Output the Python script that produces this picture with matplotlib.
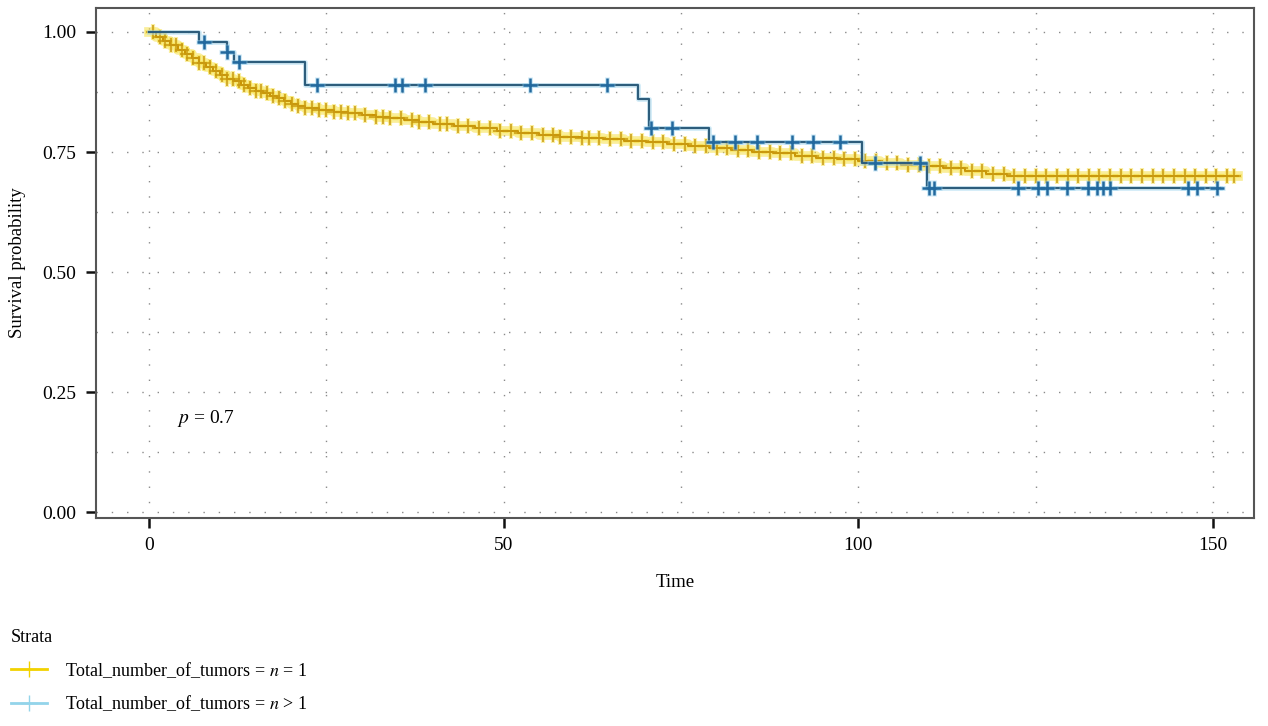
import numpy as np
import matplotlib
matplotlib.use("Agg")
import matplotlib.pyplot as plt
from matplotlib.lines import Line2D

plt.rcParams['font.family'] = ['Liberation Serif', 'DejaVu Serif']
plt.rcParams['mathtext.fontset'] = 'stix'

# stratum n = 1 : step times / survival
times_1 = [0, 1, 2, 3, 4, 5, 6, 7, 8, 9, 10, 11, 12, 13, 14, 15, 16, 17, 18, 19,
           20, 21, 22, 24, 26, 28, 30, 32, 34, 36, 38, 40, 43, 46, 49, 52, 55, 58,
           61, 64, 67, 70, 73, 76, 79, 82, 85, 88, 91, 94, 97, 100, 103, 106, 109,
           112, 115, 118, 121]
surv_1 = [1.0, 0.99, 0.981, 0.972, 0.963, 0.955, 0.945, 0.935, 0.927, 0.918,
          0.910, 0.903, 0.897, 0.890, 0.884, 0.878, 0.872, 0.867, 0.862, 0.856,
          0.850, 0.845, 0.841, 0.837, 0.834, 0.831, 0.828, 0.824, 0.820, 0.816,
          0.813, 0.809, 0.804, 0.800, 0.794, 0.789, 0.785, 0.781, 0.779, 0.777,
          0.774, 0.770, 0.766, 0.763, 0.759, 0.755, 0.751, 0.747, 0.742, 0.738,
          0.735, 0.731, 0.727, 0.723, 0.720, 0.716, 0.711, 0.705, 0.700]
end_1 = 153.5
censor_1 = [0.5, 1.5, 2.3, 3.1, 3.8, 4.6, 5.4, 6.2, 7.0, 7.8, 8.6, 9.4, 10.2, 11.0,
            11.8, 12.6, 13.4, 14.2, 15.0, 15.8, 16.6, 17.4, 18.3, 19.2, 20.1, 21.0,
            22.0, 23.0, 24.0, 25.0, 26.0, 27.0, 28.0, 29.0, 30.5, 32.0, 33.0, 34.0,
            35.5, 37.0, 38.0, 39.5, 41.0, 42.0, 43.5, 45.0, 46.5, 48.0, 49.5, 51.0,
            52.5, 54.0, 55.5, 57.0, 58.0, 59.5, 61.0, 62.0, 63.5, 65.0, 66.5, 68.0,
            69.5, 71.0, 72.5, 74.0, 75.5, 77.0, 78.5, 80.0, 81.5, 83.0, 84.5, 86.0,
            87.5, 89.0, 90.5, 92.0, 93.5, 95.0, 96.5, 98.0, 99.5, 101.0, 102.5,
            104.0, 105.5, 107.0, 108.5, 110.0, 111.5, 113.0, 114.5, 116.0, 117.5,
            119.0, 120.5, 122.0, 123.5, 125.0, 126.5, 128.0, 129.5, 131.0, 132.5,
            134.0, 135.5, 137.0, 138.5, 140.0, 141.5, 143.0, 144.5, 146.0, 147.5,
            149.0, 150.5, 152.0, 153.0]

# stratum n > 1
times_2 = [0, 7, 11, 12, 22, 69, 70.5, 79, 100.5, 109.7]
surv_2 = [1.0, 0.979, 0.958, 0.9375, 0.889, 0.860, 0.80, 0.771, 0.727, 0.675]
end_2 = 151
censor_2 = [7.7, 11.0, 12.7, 23.7, 34.7, 35.6, 38.9, 53.7, 64.6, 70.8, 73.7, 79.5,
            82.6, 85.7, 90.6, 93.6, 97.4, 102.4, 108.7, 110.0, 110.6, 122.5, 125.3,
            126.6, 129.4, 132.4, 133.6, 134.5, 135.5, 146.5, 147.7, 150.6]

p_text = r'$p$ = 0.7'
labels = [r'Total_number_of_tumors = $n$ = 1', r'Total_number_of_tumors = $n$ > 1']


def step_xy(t, s, end):
    x = list(t) + [end]
    y = list(s) + [s[-1]]
    return x, y


def surv_at(t, s, c):
    idx = np.searchsorted(np.array(t), np.array(c), side='right') - 1
    return np.array(s)[idx]


fig = plt.figure(figsize=(12.68, 7.26), dpi=100)
ax = fig.add_axes([0.0757, 0.2865, 0.9133, 0.7025])

# yellow stratum (blurry look of the original: wide pale band + darker core)
x1, y1 = step_xy(times_1, surv_1, end_1)
c1 = surv_at(times_1, surv_1, censor_1)
ax.step(x1, y1, where='post', color='#F6E04A', lw=7, alpha=0.55, zorder=3)
ax.plot(censor_1, c1, ls='none', marker='+', ms=12, mew=3, color='#F6E04A',
        alpha=0.5, zorder=3)
ax.step(x1, y1, where='post', color='#C99200', lw=1.4, zorder=4)
ax.plot(censor_1, c1, ls='none', marker='+', ms=10, mew=1.1, color='#C99A10',
        zorder=4)

# blue stratum
x2, y2 = step_xy(times_2, surv_2, end_2)
c2 = surv_at(times_2, surv_2, censor_2)
ax.step(x2, y2, where='post', color='#A8DAF0', lw=3.5, alpha=0.5, zorder=5)
ax.step(x2, y2, where='post', color='#2D5D7C', lw=1.6, zorder=6)
ax.plot(censor_2, c2, ls='none', marker='+', ms=11, mew=3.5, color='#9CD3EE',
        alpha=0.5, zorder=6)
ax.plot(censor_2, c2, ls='none', marker='+', ms=10, mew=1.8, color='#22699E',
        zorder=6)

ax.text(3.9, 0.196, p_text, fontsize=14, va='center', ha='left')

ax.set_xlim(-7.5, 155.8)
ax.set_ylim(-0.012, 1.05)
ax.set_xticks([0, 50, 100, 150])
ax.set_yticks([0, 0.25, 0.5, 0.75, 1.0])
ax.set_yticklabels(['0.00', '0.25', '0.50', '0.75', '1.00'])
ax.set_xticks([25, 75, 125], minor=True)
ax.set_yticks([0.125, 0.375, 0.625, 0.875], minor=True)
ax.tick_params(which='minor', length=0)
ax.tick_params(which='major', length=7, width=1.8, color='#111111',
               labelsize=14, pad=7)
ax.grid(which='both', color='#8a8a8a', lw=1, ls=(0, (1, 10)))
ax.set_axisbelow(True)
for sp in ax.spines.values():
    sp.set_color('#555555')
    sp.set_linewidth(1.5)

ax.set_xlabel('Time', fontsize=13.5, labelpad=14)
ax.set_ylabel('Survival probability', fontsize=13.5, labelpad=12)

handles = [Line2D([], [], color='#F2D200', lw=2, marker='+', ms=12, mew=1),
           Line2D([], [], color='#93D4EA', lw=2, marker='+', ms=12, mew=1)]
leg = fig.legend(handles, labels, loc='lower left', bbox_to_anchor=(0.0, 0.003),
                 frameon=False, title='Strata', fontsize=13, title_fontsize=13,
                 alignment='left', handlelength=2.0, handletextpad=1.0,
                 labelspacing=0.75, borderaxespad=0.4, borderpad=0.2)

fig.savefig('out.png', dpi=100)
